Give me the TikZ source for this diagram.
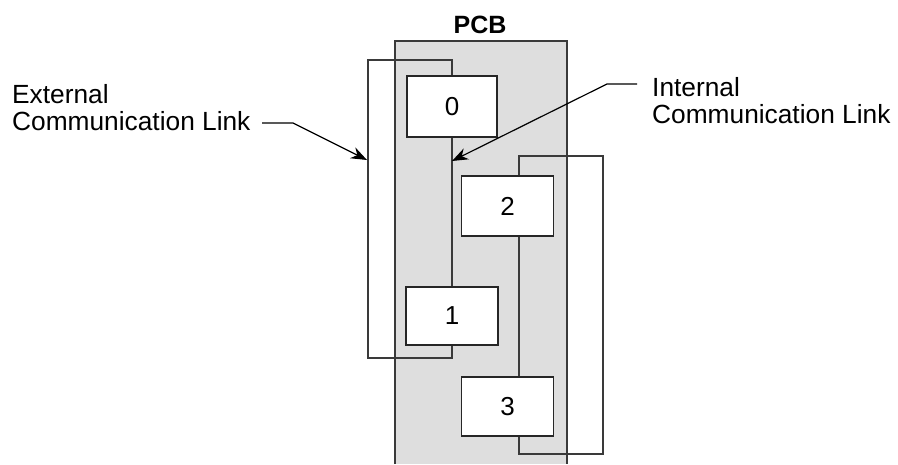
\documentclass[tikz,border=0pt]{standalone}
\usepackage{fontspec}
\setmainfont{Liberation Sans}
\usetikzlibrary{arrows.meta}
\definecolor{pcbgray}{HTML}{DEDEDE}
\definecolor{linegray}{HTML}{3A3A3A}
\begin{document}
\begin{tikzpicture}[x=1pt,y=-1pt,
  card/.style={draw=black!85,line width=1.6pt,fill=white,minimum width=92pt,minimum height=60pt,inner sep=0pt,font=\fontsize{26}{27}\selectfont},
  link/.style={draw=linegray,line width=1.7pt},
  lbl/.style={align=left,inner sep=0pt,font=\fontsize{26.3}{26.5}\selectfont},
  pointer/.style={draw=black,line width=1.2pt,-{Stealth[length=16pt,width=12pt]}}]
\useasboundingbox (0,0) rectangle (898,464);
% PCB
\fill[pcbgray] (395,41) rectangle (567,464);
\draw[draw=linegray,line width=1.7pt] (395,464) -- (395,41) -- (567,41) -- (567,464);
\node[font=\bfseries\fontsize{25}{27}\selectfont,anchor=base,inner sep=0pt] (pcb) at (480,33) {PCB};
% loop corners
\coordinate (eTL) at (368,60);
\coordinate (eBL) at (368,358);
\coordinate (iTR) at (603,156);
\coordinate (iBR) at (603,454);
% loops (drawn under the cards)
\draw[link] (452,80) |- (eTL) -- (eBL) -| (452,340);
\draw[link] (519,180) |- (iTR) -- (iBR) -| (519,430);
% cards
\node[card,minimum width=90pt,minimum height=61pt] (c0) at (452,106.5) {0};
\node[card,minimum height=58pt] (c1) at (452,316) {1};
\node[card] (c2) at (507.5,206) {2};
\node[card,minimum height=59pt] (c3) at (507.5,406.5) {3};
% internal links
\draw[link] (c0.south) -- (c1.north);
\draw[link] ([xshift=11.5]c2.south) -- ([xshift=11.5]c3.north);
% labels
\node[lbl,anchor=base west] (ext) at (12,130) {External\\Communication Link};
\node[lbl,anchor=base west] (int) at (652,123) {Internal\\Communication Link};
\coordinate (extTip) at (367,160);
\coordinate (intTip) at (452,161);
\draw[pointer] (262,123) -- (293,123) -- (extTip);
\draw[pointer] (637,84) -- (607,84) -- (intTip);
\end{tikzpicture}
\end{document}
